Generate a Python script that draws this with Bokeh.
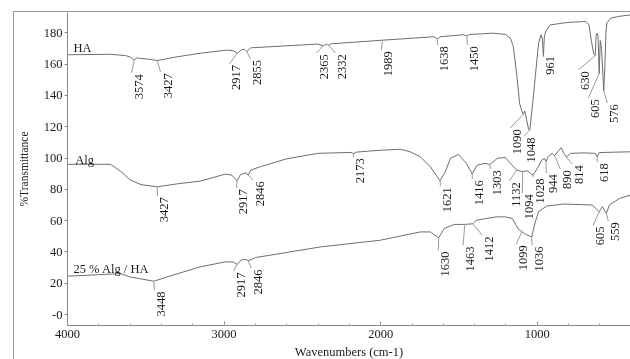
import numpy as np
from bokeh.plotting import figure
from bokeh.models import Range1d, ColumnDataSource, FixedTicker
from bokeh.core.properties import value
from bokeh.embed import file_html
from bokeh.resources import INLINE

# ---------------- data ----------------
ha_wn = [4000, 3726, 3630, 3598, 3574, 3560, 3470, 3427, 3311, 3151, 2979, 2940, 2917, 2889,
         2870, 2855, 2832, 2640, 2404, 2365, 2347, 2332, 2315, 1989, 1660, 1638, 1620, 1470,
         1450, 1430, 1364, 1287, 1204, 1172, 1153, 1130, 1113, 1102, 1090, 1080, 1056, 1048,
         1034, 1013, 992, 976, 968, 961, 955, 945, 917, 810, 690, 670, 655, 640, 630, 625,
         618, 612, 605, 598, 590, 576, 568, 562, 556, 530, 480, 405]
ha_t = [166, 166.3, 165.5, 164.5, 162.5, 164, 163, 162.3, 164.5, 167, 169, 168.5, 166.8, 169.2,
        169.5, 168, 170.4, 171.5, 172.8, 171.8, 172.8, 172, 173, 175.3, 177.5, 176, 177.5, 178.8,
        178, 179, 179.3, 179.8, 179, 176.6, 171.2, 152, 135, 131, 128, 130, 118.5, 118,
        130.7, 152, 173.4, 178.7, 176, 165, 178, 181, 185.1, 186.6, 187.3, 185, 175, 166.5, 165.5, 178,
        179.8, 177.5, 154, 175, 170, 143, 160, 180, 186.2, 189.4, 190.5, 191.5]

alg_wn = [4000, 3725, 3660, 3600, 3530, 3427, 3300, 3150, 2990, 2950, 2917, 2895, 2860, 2846,
          2830, 2770, 2600, 2400, 2190, 2173, 2155, 2002, 1874, 1811, 1747, 1683, 1621, 1587,
          1555, 1504, 1453, 1416, 1383, 1332, 1303, 1255, 1204, 1172, 1132, 1094, 1064, 1028,
          1000, 968, 952, 944, 930, 906, 890, 870, 847, 830, 814, 790, 700, 630, 618, 605, 405]
alg_t = [96, 96, 91.5, 86, 83, 81.6, 83.5, 85.3, 89.8, 89, 85.5, 89.5, 90.5, 89,
         92.3, 94.4, 99.5, 103, 103.6, 102.8, 103.8, 105, 105.6, 104, 100.8, 94.4, 85.5, 91.3,
         99.8, 102.3, 96.6, 90, 95.5, 96.6, 95.9, 99.8, 100.4, 96.6, 92.3, 91.3, 91.9, 89,
         93.4, 99.2, 99.5, 97.7, 101, 103, 101.5, 104, 106.6, 103, 100.5, 103, 103.3, 103, 100.8, 103.5, 104]

mix_wn = [4000, 3726, 3660, 3600, 3448, 3350, 3151, 2990, 2940, 2917, 2890, 2860, 2846, 2800,
          2385, 2002, 1747, 1683, 1630, 1594, 1530, 1463, 1412, 1390, 1262, 1204, 1160, 1120,
          1099, 1080, 1036, 1013, 992, 940, 835, 650, 605, 585, 559, 540, 475, 405]
mix_t = [24.5, 25.8, 26.2, 24, 21.3, 24.5, 30.5, 33.7, 33.5, 32, 34.9, 35.2, 34.3, 36.4,
         43.2, 47.5, 52.8, 52.8, 49, 55, 57.6, 57.6, 58, 60.3, 62.4, 62.4, 61.4, 54.4,
         53, 51.5, 49.5, 59.2, 65.7, 69.3, 70.6, 70, 65.7, 68.9, 64.6, 70, 74.2, 76.3]

# peak labels (wavenumber of the band)
ha_peaks = [3574, 3427, 2917, 2855, 2365, 2332, 1989, 1638, 1450, 1090, 1048, 961, 630, 605, 576]
alg_peaks = [3427, 2917, 2846, 2173, 1621, 1416, 1303, 1132, 1094, 1028, 944, 890, 814, 618]
mix_peaks = [3448, 2917, 2846, 1630, 1463, 1412, 1099, 1036, 605, 559]

# label placement (leader end point, data units)
ha_lab_x = [3591, 3406, 2966, 2832, 2410, 2289, 1996, 1638, 1447, 1172, 1083, 962, 738, 674, 553]
ha_lab_y = [154.4, 155, 160.2, 163.4, 167.2, 167.2, 169, 172.3, 172.3, 119.2, 114, 166, 156.3, 138.4, 135.2]
alg_lab_x = [3426, 2921, 2813, 2174, 1619, 1415, 1300, 1179, 1096, 1026, 943, 853, 777, 617]
alg_lab_y = [75.7, 80.8, 85.9, 100.6, 82.1, 86.6, 93, 85.3, 77.6, 87.8, 90.4, 93, 96.2, 97.4]
mix_lab_x = [3445, 2940, 2826, 1632, 1474, 1351, 1134, 1034, 643, 547]
mix_lab_y = [15.5, 27.7, 29.6, 41.1, 44.3, 50.7, 45, 44.3, 57.1, 59.7]

series_names = ["HA", "Alg", "25 % Alg / HA"]
y_ticks = [0, 20, 40, 60, 80, 100, 120, 140, 160, 180]
x_ticks = [4000, 3000, 2000, 1000]

FONT = "Liberation Serif"
LINE = "#6e6e6e"
LEAD = "#9a9a9a"
TXT = "#1a1a1a"

p = figure(frame_width=563, frame_height=313, output_backend="svg", toolbar_location=None,
           x_range=Range1d(4000, 405), y_range=Range1d(-7, 193),
           min_border_left=53, min_border_right=0, min_border_top=0, min_border_bottom=33)
p.styles = {"position": "fixed", "left": "13px", "top": "11px",
            "border-left": "1px solid #999", "border-top": "1px solid #999"}
p.outline_line_color = None
p.grid.visible = False
p.background_fill_color = "white"
p.border_fill_color = "white"

# axes
p.xaxis.ticker = FixedTicker(ticks=x_ticks, minor_ticks=list(range(400, 4001, 200)))
p.yaxis.ticker = FixedTicker(ticks=y_ticks)
p.yaxis.major_label_overrides = {0: "-0"}
for ax in (p.xaxis[0], p.yaxis[0]):
    ax.axis_line_color = "#8a8a8a"
    ax.major_tick_line_color = "#8a8a8a"
    ax.minor_tick_line_color = "#a0a0a0"
    ax.major_label_text_font = FONT
    ax.major_label_text_font_size = "12.5px"
    ax.major_label_text_color = TXT
    ax.axis_label_text_font = FONT
    ax.axis_label_text_font_style = "normal"
    ax.axis_label_text_color = TXT
p.xaxis.major_tick_in = 4
p.xaxis.major_tick_out = 0
p.xaxis.minor_tick_in = 2
p.xaxis.minor_tick_out = 0
p.xaxis.major_label_standoff = 4
p.xaxis.axis_label = "Wavenumbers (cm-1)"
p.xaxis.axis_label_text_font_size = "12.5px"
p.xaxis.axis_label_standoff = 4
p.yaxis.major_tick_in = 0
p.yaxis.major_tick_out = 3
p.yaxis.minor_tick_line_color = None
p.yaxis.major_label_standoff = 2
p.yaxis.axis_label = "%Transmittance"
p.yaxis.axis_label_text_font_size = "11.5px"
p.yaxis.axis_label_standoff = 11

curves = [(ha_wn, ha_t), (alg_wn, alg_t), (mix_wn, mix_t)]
peaks = [(ha_peaks, ha_lab_x, ha_lab_y), (alg_peaks, alg_lab_x, alg_lab_y),
         (mix_peaks, mix_lab_x, mix_lab_y)]
name_pos = [(3962, 170.2), (3950, 99.0), (3962, 29.4)]

for (wn, t), (pk, lx, ly), name, (nx, ny) in zip(curves, peaks, series_names, name_pos):
    p.line(wn, t, line_color=LINE, line_width=1)
    wa = np.array(wn[::-1], dtype=float)
    ta = np.array(t[::-1], dtype=float)
    y0 = np.interp(np.array(pk, dtype=float), wa, ta)
    xs = [[a, b] for a, b in zip(pk, lx)]
    ys = [[a, b] for a, b in zip(y0, ly)]
    p.multi_line(xs, ys, line_color=LEAD, line_width=1)
    src = ColumnDataSource(dict(x=lx, y=[v - 0.8 for v in ly], text=[str(v) for v in pk]))
    p.text("x", "y", "text", source=src, angle=np.pi / 2, text_align="right",
           text_baseline="middle", x_offset=7, text_font=value(FONT),
           text_font_size="12.5px", text_color=TXT)
    p.text([nx], [ny], [name], text_align="left", text_baseline="alphabetic",
           text_font=value(FONT), text_font_size="12.5px", text_color=TXT)

open("out.html", "w").write(file_html(p, INLINE))
